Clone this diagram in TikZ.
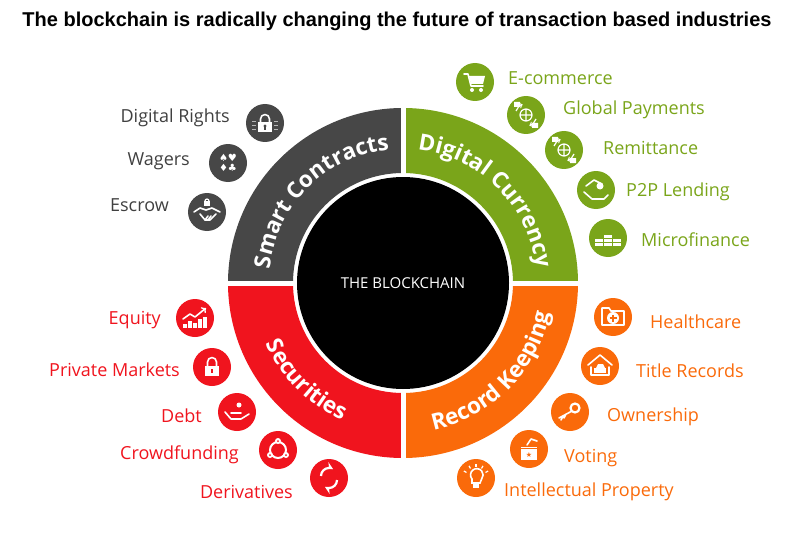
\documentclass[tikz,border=0pt]{standalone}
\usepackage{fontspec}
\setmainfont{Open Sans}
\newfontfamily\titlefont{Liberation Sans}
\newfontfamily\symfont{DejaVu Sans}
\usetikzlibrary{calc,decorations.text}
\definecolor{cgray}{HTML}{474747}
\definecolor{cgreen}{HTML}{7AA51A}
\definecolor{cred}{HTML}{F0141E}
\definecolor{corange}{HTML}{FA6A0A}
\tikzset{
  lbl/.style={font=\fontsize{18}{20}\selectfont, inner sep=0pt},
  lgray/.style={lbl, text=cgray!90!black, anchor=east},
  lgreen/.style={lbl, text=cgreen, anchor=west},
  lred/.style={lbl, text=cred, anchor=east},
  lorange/.style={lbl, text=corange, anchor=west},
  ic/.style={circle, minimum size=38pt, inner sep=0pt},
  wl/.style={draw=white, line width=1.6pt, line cap=round, line join=round},
  wf/.style={fill=white},
}
\newcommand{\ringfont}{\fontsize{22.5}{22}\selectfont\bfseries}
\begin{document}
\begin{tikzpicture}[x=1pt,y=1pt]
\useasboundingbox (0,0) rectangle (800,542);
\node[font=\titlefont\bfseries\fontsize{20}{22}\selectfont] (title) at (397,521) {The blockchain is radically changing the future of transaction based industries};
\coordinate (C) at (403,259);
\def\Ro{175}\def\Ri{110}
\foreach \a/\b/\c in {90/180/cgray,0/90/cgreen,180/270/cred,270/360/corange}{
  \fill[\c] ($(C)+(\a:\Ro)$) arc[start angle=\a,end angle=\b,radius=\Ro] -- ($(C)+(\b:\Ri)$) arc[start angle=\b,end angle=\a,radius=\Ri] -- cycle;
}
\foreach \a in {0,90,180,270}{
  \draw[white,line width=5pt] ($(C)+(\a:\Ri-2)$) -- ($(C)+(\a:\Ro+2)$);
}
\node[circle,fill=black,minimum size=212pt,inner sep=0pt] (core) at (C) {};
\node[text=white,font=\fontsize{15}{18}\selectfont] (coretxt) at (C) {THE BLOCKCHAIN};
% ring texts
\path[decorate,decoration={text along path,text color=white,text align=center,text={|\ringfont|Smart Contracts}}]
  ($(C)+(177:134)$) arc[start angle=177,end angle=93,radius=134];
\path[decorate,decoration={text along path,text color=white,text align=center,text={|\ringfont|Digital Currency}}]
  ($(C)+(87:134)$) arc[start angle=87,end angle=3,radius=134];
\path[decorate,decoration={text along path,text color=white,text align=center,text={|\ringfont|Securities}}]
  ($(C)+(183:150)$) arc[start angle=183,end angle=267,radius=150];
\path[decorate,decoration={text along path,text color=white,text align=center,text={|\ringfont|Record Keeping}}]
  ($(C)+(273:150)$) arc[start angle=273,end angle=357,radius=150];
% gray
\node[lgray] (t1) at (230,424) {Digital Rights};
\node[lgray] (t2) at (190,381) {Wagers};
\node[lgray] (t3) at (169,337) {Escrow};
\node[ic,fill=cgray] (i1) at (265,419) {};
\node[ic,fill=cgray] (i2) at (228,379) {};
\node[ic,fill=cgray] (i3) at (207,330) {};
% green
\node[lgreen] (t4) at (508,464) {E-commerce};
\node[lgreen] (t5) at (563,432) {Global Payments};
\node[lgreen] (t6) at (603,394) {Remittance};
\node[lgreen] (t7) at (626,350) {P2P Lending};
\node[lgreen] (t8) at (641,302) {Microfinance};
\node[ic,fill=cgreen] (i4) at (475,460) {};
\node[ic,fill=cgreen] (i5) at (526,427) {};
\node[ic,fill=cgreen] (i6) at (564,392) {};
\node[ic,fill=cgreen] (i7) at (596,352) {};
\node[ic,fill=cgreen] (i8) at (608,304) {};
% red
\node[lred] (t9) at (161,222) {Equity};
\node[lred] (t10) at (180,172) {Private Markets};
\node[lred] (t11) at (202,126) {Debt};
\node[lred] (t12) at (239,87) {Crowdfunding};
\node[lred] (t13) at (293,50) {Derivatives};
\node[ic,fill=cred] (i9) at (195,224) {};
\node[ic,fill=cred] (i10) at (212,175) {};
\node[ic,fill=cred] (i11) at (237,130) {};
\node[ic,fill=cred] (i12) at (278,92) {};
\node[ic,fill=cred] (i13) at (329,64) {};
% orange
\node[lorange] (t14) at (650,220) {Healthcare};
\node[lorange] (t15) at (636,171) {Title Records};
\node[lorange] (t16) at (607,125) {Ownership};
\node[lorange] (t17) at (564,84) {Voting};
\node[lorange] (t18) at (504,50) {Intellectual Property};
\node[ic,fill=corange] (i14) at (613,225) {};
\node[ic,fill=corange] (i15) at (600,176) {};
\node[ic,fill=corange] (i16) at (570,130) {};
\node[ic,fill=corange] (i17) at (529,93) {};
\node[ic,fill=corange] (i18) at (476,64) {};
% icon glyphs
\begin{scope}[shift={(i1.center)}]
  \fill[white] (-7,-9) rectangle (7,1); \draw[wl] (-4.5,1) -- (-4.5,4) arc[start angle=180,end angle=0,radius=4.5] -- (4.5,1);
  \fill[cgray] (0,-3) circle (1.6); \fill[cgray] (-0.7,-3) rectangle (0.7,-7);
  \foreach \y in {-6,-2,2}{\draw[white,line width=0.6pt,opacity=.6] (-13,\y) -- (-9,\y) (9,\y) -- (13,\y);}
\end{scope}
\node[text=white,font=\symfont\fontsize{10}{10}\selectfont,align=center] (g2) at (i2.center) {♠♥\\♦♣};
\begin{scope}[shift={(i3.center)}]
  \draw[wl] (-13,0) -- (-7,4) -- (-1,2) -- (5,4) -- (13,0);
  \draw[wl] (-7,-2) -- (-2,-8) -- (3,-8) -- (9,-2);
  \draw[wl] (-2,-8) -- (1,-4) (1,-8) -- (4,-4);
  \fill[white] (-3,6) rectangle (3,11); \draw[white,line width=1.2pt] (-2,11) arc[start angle=180,end angle=0,radius=2];
\end{scope}
\begin{scope}[shift={(i4.center)}]
  \draw[wl] (-11,8) -- (-7,8) -- (-4,-4) -- (8,-4);
  \fill[white] (-6,6) -- (10,6) -- (8,-2) -- (-4,-2) -- cycle;
  \fill[white] (-3,-8) circle (2) (6,-8) circle (2);
\end{scope}
\foreach \n in {i5,i6}{
\begin{scope}[shift={(\n.center)}]
  \draw[white,line width=1.2pt] (0,0) circle (6) (-6,0) -- (6,0) (0,-6) -- (0,6);
  \draw[white,line width=1.2pt,->] (-10,4) arc[start angle=160,end angle=110,radius=11];
  \draw[white,line width=1.2pt,->] (10,-4) arc[start angle=-20,end angle=-70,radius=11];
  \fill[white] (-12,8) rectangle (-6,13) (6,-13) rectangle (12,-8);
\end{scope}}
\begin{scope}[shift={(i7.center)}]
  \draw[wl] (-12,-2) -- (-4,-9) -- (8,-9) -- (12,-5);
  \draw[wl] (-10,4) -- (-2,10) -- (6,6);
  \fill[white] (4,4) circle (3.5);
\end{scope}
\begin{scope}[shift={(i8.center)}]
  \foreach \x/\h in {-9/2,0/3,9/2}{\foreach \k in {1,...,\h}{\fill[white] (\x-4,-8+4*\k-4) rectangle (\x+4,-8+4*\k-1);}}
\end{scope}
\begin{scope}[shift={(i9.center)}]
  \foreach \x/\h in {-10/4,-5/7,0/5,5/9,10/11}{\fill[white] (\x-1.6,-10) rectangle (\x+1.6,-10+\h);}
  \draw[wl,->] (-12,-1) -- (-5,4) -- (0,1) -- (11,10);
\end{scope}
\begin{scope}[shift={(i10.center)}]
  \fill[white] (-7,-9) rectangle (7,1); \draw[wl] (-4.5,1) -- (-4.5,5) arc[start angle=180,end angle=0,radius=4.5] -- (4.5,1);
  \fill[cred] (-0.8,-6) rectangle (0.8,-2);
\end{scope}
\begin{scope}[shift={(i11.center)}]
  \draw[wl] (-12,0) -- (-6,-7) -- (4,-7) -- (12,-2);
  \draw[wl] (-6,-1) -- (4,-1);
  \fill[white] (2,7) circle (2.5);
\end{scope}
\begin{scope}[shift={(i12.center)}]
  \draw[white,line width=2pt] (0,0) circle (8);
  \fill[white] (0,9) circle (3) (-8,-5) circle (3) (8,-5) circle (3);
  \fill[cred] (0,9) circle (1) (-8,-5) circle (1) (8,-5) circle (1);
\end{scope}
\begin{scope}[shift={(i13.center)}]
  \draw[white,line width=2.2pt,-stealth] (-8,2) arc[start angle=180,end angle=60,radius=8];
  \draw[white,line width=2.2pt,-stealth] (8,-2) arc[start angle=0,end angle=-120,radius=8];
\end{scope}
\begin{scope}[shift={(i14.center)}]
  \draw[wl] (-11,-8) -- (-11,9) -- (-4,9) -- (-2,6) -- (11,6) -- (11,-8) -- cycle;
  \fill[white] (0,-1) circle (6); \draw[corange,line width=1.8pt] (-3.5,-1) -- (3.5,-1) (0,-4.5) -- (0,2.5);
\end{scope}
\begin{scope}[shift={(i15.center)}]
  \draw[wl] (-12,1) -- (0,11) -- (12,1) (-9,-1) -- (-9,-9) -- (9,-9) -- (9,-1);
  \fill[white] (-6,-7) rectangle (6,-2); \fill[white] (-4,-2) -- (-2,2) -- (3,2) -- (5,-2) -- cycle;
\end{scope}
\begin{scope}[shift={(i16.center)}]
  \draw[white,line width=2.2pt] (5,4) circle (4.5);
  \draw[wl] (2,1) -- (-11,-6) (-7,-4) -- (-9,-8) (-4,-2) -- (-6,-6);
\end{scope}
\begin{scope}[shift={(i17.center)}]
  \fill[white] (-8,-11) rectangle (8,2); \fill[corange] (-9,0) rectangle (9,1.2);
  \draw[wl] (-2,4) -- (2,10) -- (8,8);
  \node[text=corange,font=\symfont\fontsize{7}{7}\selectfont,inner sep=0] (st) at (0,-6) {★};
\end{scope}
\begin{scope}[shift={(i18.center)}]
  \draw[white,line width=1.6pt] (-4,-5) -- (-4,-1) arc[start angle=220,end angle=-40,radius=6.3] -- (4,-5) -- cycle;
  \fill[white] (-3,-10) rectangle (3,-6);
  \foreach \a in {30,60,90,120,150}{\draw[white,line width=1.2pt] (\a:11) -- (\a:14);}
\end{scope}
\end{tikzpicture}
\end{document}
